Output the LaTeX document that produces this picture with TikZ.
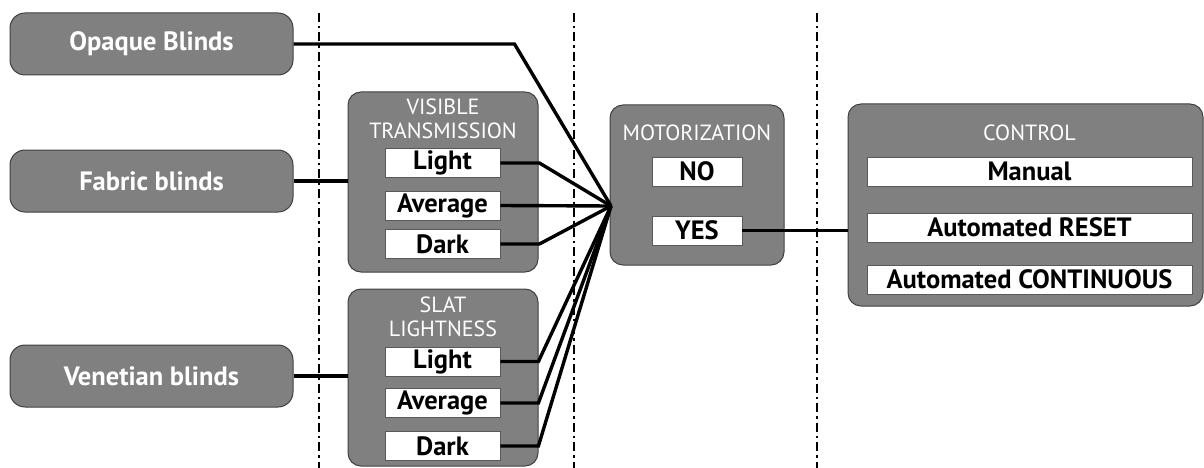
\documentclass[tikz,border=0pt]{standalone}
\usepackage{fontspec}
\setmainfont{PT Sans}
\usepackage{tikz}
\usetikzlibrary{positioning}

\begin{document}
\begin{tikzpicture}[x=1pt, y=-1pt]
    \tikzstyle{blind} = [rectangle, minimum width=283pt, minimum height=62pt, text centered, draw=black!75, fill=black!50, line width=1pt, rounded corners=15pt, text=white, font=\fontsize{26.5}{28}\selectfont\bfseries]
    \tikzstyle{group} = [rectangle, draw=black!75, fill=black!50, line width=1pt, rounded corners=13pt]
    \tikzstyle{title} = [text=white, align=center, font=\fontsize{22}{23.5}\selectfont]
    \tikzstyle{option} = [rectangle, minimum height=29pt, inner sep=0pt, text centered, draw=black!65, fill=white, line width=0.8pt, font=\fontsize{26.5}{28}\selectfont\bfseries]
    \tikzstyle{link} = [line width=3.4pt]
    \tikzstyle{divider} = [line width=2.6pt, dash pattern=on 9pt off 4pt on 2.5pt off 4pt]

    \useasboundingbox (0,0) rectangle (1204,468);

    % dividers
    \foreach \x in {319, 574, 817}
        \draw [divider] (\x,13) -- (\x,468);

    % blinds
    \node (opaque) [blind] at (151.5,44) {Opaque Blinds};
    \node (fabric) [blind] at (151.5,181) {Fabric blinds};
    \node (venetian) [blind] at (151.5,376) {Venetian blinds};

    % visible transmission
    \node (vis) [group, minimum width=190pt, minimum height=180pt] at (443,182) {};
    \node [title] at (443,119) {VISIBLE\\TRANSMISSION};
    \node (vlight) [option, minimum width=115pt] at (442.5,163) {Light};
    \node (vavg) [option, minimum width=115pt] at (442.5,205.5) {Average};
    \node (vdark) [option, minimum width=115pt] at (442.5,244) {Dark};

    % slat lightness
    \node (slat) [group, minimum width=190pt, minimum height=177pt] at (443,377.5) {};
    \node [title] at (443,317) {SLAT\\LIGHTNESS};
    \node (slight) [option, minimum width=115pt] at (442.5,361.5) {Light};
    \node (savg) [option, minimum width=115pt] at (442.5,403) {Average};
    \node (sdark) [option, minimum width=115pt] at (442.5,446) {Dark};

    % motorization
    \node (motor) [group, minimum width=174pt, minimum height=160pt] at (697,185) {};
    \node [title] at (697,133) {MOTORIZATION};
    \node (no) [option, minimum width=90pt] at (697,171.5) {NO};
    \node (yes) [option, minimum width=90pt] at (697,230.5) {YES};
    \coordinate (hub) at (611,206);

    % control
    \node (control) [group, minimum width=355pt, minimum height=202pt] at (1025.5,205) {};
    \node [title] at (1029.5,133) {CONTROL};
    \node (manual) [option, minimum width=325pt] at (1029.5,171.5) {Manual};
    \node (reset) [option, minimum width=325pt] at (1029.5,227.5) {Automated RESET};
    \node (cont) [option, minimum width=325pt] at (1029.5,279.5) {Automated CONTINUOUS};

    \draw [link] (fabric.east) -- (vis.west |- fabric.east);
    \draw [link] (venetian.east) -- (slat.west |- venetian.east);
    \draw [link] (opaque.east) -- ++(221,0) -- (hub);
    \draw [link] (vlight.east) -- ++(39,0) -- (hub);
    \draw [link] (vavg.east) -- (hub);
    \draw [link] (vdark.east) -- ++(39,0) -- (hub);
    \draw [link] (slight.east) -- ++(38,0) -- (hub);
    \draw [link] (savg.east) -- ++(38,0) -- (hub);
    \draw [link] (sdark.east) -- ++(38,0) -- (hub);
    \draw [link] (yes.east) -- (control.west |- yes.east);
\end{tikzpicture}
\end{document}
